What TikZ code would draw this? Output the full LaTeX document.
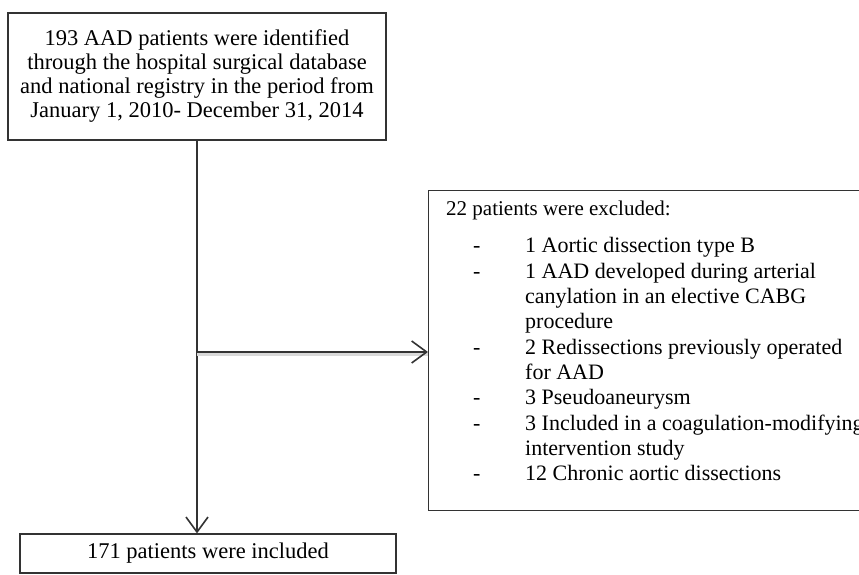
\documentclass[tikz,border=0pt]{standalone}
\usepackage{fontspec}
\setmainfont{Liberation Serif}
\usepackage{tikz}
\usetikzlibrary{arrows.meta}
\usepackage{xcolor}

\tikzset{
  box/.style={draw=black!80, line width=1.2pt, inner sep=0pt},
  flow/.style={draw=black!80, line width=1.6pt, -{Straight Barb[length=15pt,width=22pt,line width=1.6pt]}},
}

\begin{document}
\begin{tikzpicture}[x=1pt, y=-1pt, font=\fontsize{22.5}{24}\selectfont]
\clip (0,0) rectangle (859,575);
\fill[white] (0,0) rectangle (859,575);
\node[box, minimum width=378pt, minimum height=127pt, align=center] (found) at (197,76.5) {193 AAD patients were identified\\
through the hospital surgical database\\
and national registry in the period from\\
January 1, 2010- December 31, 2014};
\node[box, anchor=north west, minimum width=480pt, minimum height=320pt] (excl) at (428,190) {};
\node[anchor=base west, inner sep=0pt, font=\fontsize{21}{24}\selectfont] (excltitle) at (446,215) {22 patients were excluded:};
\node[anchor=north west, inner sep=0pt, font=\fontsize{22}{25.3}\selectfont] (excllist) at (473,235) {%
\begin{tabular}{@{}p{40pt}l@{}}
- & 1 Aortic dissection type B\\
- & 1 AAD developed during arterial\\
  & canylation in an elective CABG\\
  & procedure\\
- & 2 Redissections previously operated\\
  & for AAD\\
- & 3 Pseudoaneurysm\\
- & 3 Included in a coagulation-modifying\\
  & intervention study\\
- & 12 Chronic aortic dissections
\end{tabular}};
\node[box, minimum width=376pt, minimum height=39pt] (incl) at (208,553.5) {171 patients were included};
% flow lines
\coordinate (branch) at (197,352);
\draw[flow] (found.south) -- (found.south |- incl.north);
\draw[flow, preaction={draw=black!15, line width=3pt, -, transform canvas={yshift=-2.5pt}}] (branch) -- (branch -| excl.west);
\end{tikzpicture}
\end{document}
